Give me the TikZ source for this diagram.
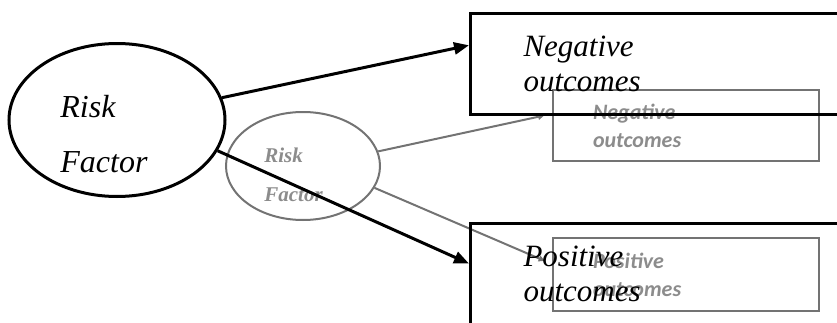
\documentclass[tikz,border=0pt]{standalone}
\usepackage{fontspec}
\setmainfont{Liberation Serif}
\newfontfamily\calfont{Carlito}
\usetikzlibrary{shapes.geometric,arrows.meta,calc}

\begin{document}
\begin{tikzpicture}[x=0.5pt,y=-0.5pt,
	fg/.style={draw,line width=1.5pt},
	bg/.style={draw=black!55,line width=1pt},
	fgarr/.style={line width=1.5pt,-{Triangle[length=7.5pt,width=6pt]}},
	bgarr/.style={draw=black!55,line width=1pt,-{Triangle[length=3pt,width=3pt]},shorten >=4pt},
	fgtxt/.style={font=\fontsize{15.5}{17.5}\selectfont\itshape,align=left},
	bgtxt/.style={font=\calfont\fontsize{11}{14}\selectfont\itshape\bfseries,text=black!45,align=left}]
	\useasboundingbox (0,0) rectangle (837,322);
	% faded copy behind
	\node[bg,ellipse,minimum width=77pt,minimum height=54pt] (bgrisk) at (303,166) {};
	\node[anchor=north west,inner sep=0pt,text=black!45,align=left,
		font=\fontsize{10.5}{19.5}\selectfont\itshape\bfseries] (bgrisklbl) at (264,148) {Risk\\Factor};
	\node[bg,bgtxt,anchor=north west,minimum height=35.5pt,text width=93pt,inner xsep=20pt] (bgneg) at (552,89) {Negative\\outcomes};
	\node[bg,bgtxt,anchor=north west,minimum height=36.5pt,text width=93pt,inner xsep=20pt] (bgpos) at (552,237) {Positive\\outcomes};
	\draw[bgarr] (bgrisk.11) -- ($(bgneg.north west)!0.34!(bgneg.south west)$);
	\draw[bgarr] (bgrisk.-17) -- ($(bgpos.north west)!0.36!(bgpos.south west)$);
	% main diagram
	\node[fg,ellipse,minimum width=108pt,minimum height=76.5pt] (risk) at (117,120) {};
	\node[anchor=north west,inner sep=0pt,align=left,
		font=\fontsize{16}{27.5}\selectfont\itshape] (risklbl) at (60,95) {Risk\\Factor};
	\node[fg,fgtxt,anchor=north west,minimum height=50.5pt,text width=142.5pt,inner xsep=26.5pt] (neg) at (469,12) {Negative\\outcomes};
	\node[fg,fgtxt,anchor=north west,minimum height=50.5pt,text width=142.5pt,inner xsep=26.5pt] (pos) at (469,222) {Positive\\outcomes};
	\draw[fgarr] (risk.12) -- ($(neg.north west)!0.32!(neg.south west)$);
	\draw[fgarr] (risk.-17) -- ($(pos.north west)!0.4!(pos.south west)$);
\end{tikzpicture}
\end{document}
